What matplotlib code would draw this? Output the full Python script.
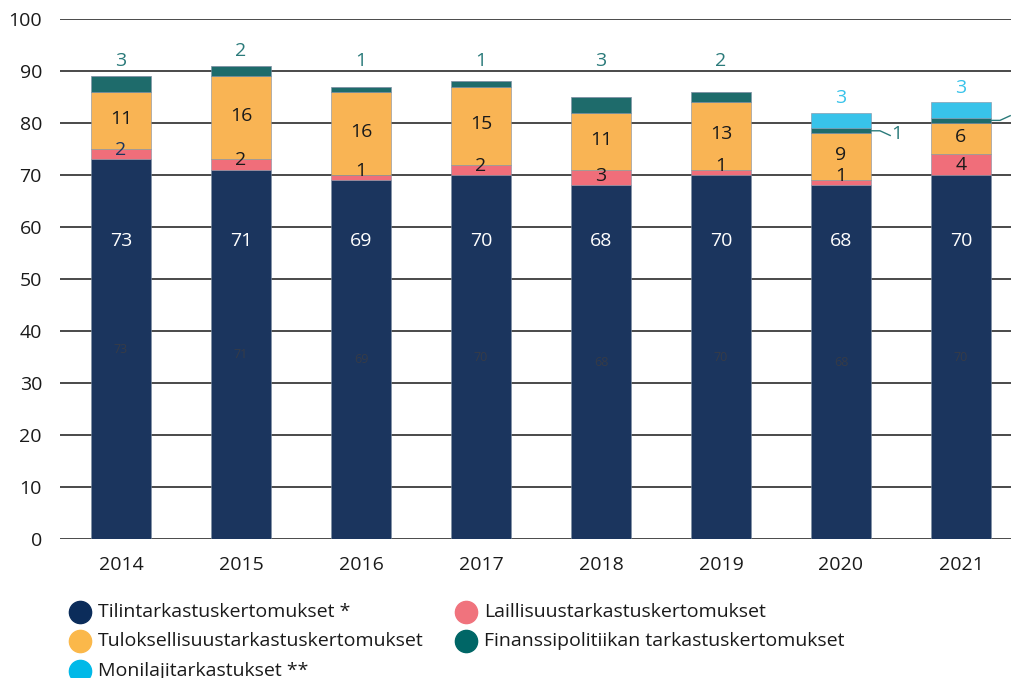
import numpy as np
import matplotlib
matplotlib.use("Agg")
import matplotlib.pyplot as plt
from matplotlib.lines import Line2D

plt.rcParams['font.family'] = ['Open Sans', 'DejaVu Sans']

years = ['2014', '2015', '2016', '2017', '2018', '2019', '2020', '2021']
tilin = [73, 71, 69, 70, 68, 70, 68, 70]
lailli = [2, 2, 1, 2, 3, 1, 1, 4]
tuloks = [11, 16, 16, 15, 11, 13, 9, 6]
finanssi = [3, 2, 1, 1, 3, 2, 1, 1]
monilaji = [0, 0, 0, 0, 0, 0, 3, 3]

names = ['Tilintarkastuskertomukset *', 'Laillisuustarkastuskertomukset',
         'Tuloksellisuustarkastuskertomukset', 'Finanssipolitiikan tarkastuskertomukset',
         'Monilajitarkastukset **']
bar_cols = ['#1b355e', '#f06e7a', '#f9b454', '#1e6b6b', '#38c3ea']
leg_cols = ['#0b2c5a', '#f0737d', '#fbb84a', '#006666', '#00b9e8']

fs = 14

fig = plt.figure(figsize=(10.12, 6.78), dpi=100)
ax = fig.add_axes([0.0593, 0.205, 0.9407, 0.767])

x = np.arange(len(years))
w = 0.5
series = [tilin, lailli, tuloks, finanssi, monilaji]
bottom = np.zeros(len(years))
bottoms = []
for vals, c in zip(series, bar_cols):
    vals = np.array(vals, dtype=float)
    bottoms.append(bottom.copy())
    ax.bar(x, vals, w, bottom=bottom, color=c, zorder=3, edgecolor='#7f8fa3', linewidth=0.4)
    bottom = bottom + vals
tops = bottom

for i in range(len(years)):
    # navy: white label and faint duplicate in the middle
    ax.text(x[i], 57.3, str(tilin[i]), color='white', ha='center', va='center', fontsize=fs, zorder=5)
    ax.text(x[i], tilin[i] / 2, str(tilin[i]), color='#363b47', ha='center', va='center', fontsize=9, zorder=5)
    # pink
    b = bottoms[1][i]
    ax.text(x[i], max(b + lailli[i] / 2, b + 1.8), str(lailli[i]),
            color='#1b355e' if i == 0 else '#1a1a1a', ha='center', va='center', fontsize=fs, zorder=5)
    # orange
    b = bottoms[2][i]
    ax.text(x[i], b + tuloks[i] / 2 + 0.3, str(tuloks[i]), color='#1a1a1a',
            ha='center', va='center', fontsize=fs, zorder=5)
    # teal / light blue
    if monilaji[i] == 0:
        ax.text(x[i], max(tops[i] + 2.8, 92), str(finanssi[i]), color='#2a7a7a',
                ha='center', va='center', fontsize=fs, zorder=5)
    else:
        ax.text(x[i], tops[i] + 2.8, str(monilaji[i]), color='#38c3ea',
                ha='center', va='center', fontsize=fs, zorder=5)
        yc = bottoms[3][i] + finanssi[i] / 2
        dy = -0.9 if i == 6 else 0.9
        ax.plot([x[i] + w / 2, x[i] + 0.325, x[i] + 0.41], [yc, yc, yc + dy],
                color='#2a7a7a', lw=1, zorder=5, clip_on=False)
        ax.text(x[i] + 0.42, yc + dy * 0.7, str(finanssi[i]), color='#2a7a7a',
                ha='left', va='center', fontsize=fs, zorder=5, clip_on=False)

ax.set_xlim(-0.508, 7.425)
ax.set_ylim(0, 100)
ax.set_yticks(range(0, 101, 10))
ax.set_xticks(x)
ax.set_xticklabels(years)
ax.yaxis.grid(True, color='#2b2b2b', lw=1.2, zorder=1)
ax.set_axisbelow(True)
for s in ax.spines.values():
    s.set_visible(False)
ax.tick_params(axis='both', length=0, labelsize=fs, colors='#1a1a1a')
ax.tick_params(axis='y', pad=13)
ax.tick_params(axis='x', pad=12)

# legend
leg_pos = [(0.079, 0.097), (0.4605, 0.097), (0.079, 0.054), (0.4605, 0.054), (0.079, 0.011)]
for (lx, ly), name, c in zip(leg_pos, names, leg_cols):
    fig.add_artist(Line2D([lx], [ly], marker='o', markersize=16, color=c, linestyle='none',
                          transform=fig.transFigure))
    fig.text(lx + 0.018, ly, name, fontsize=fs, color='#1a1a1a', va='center', ha='left')

fig.savefig('out.png', dpi=100)
